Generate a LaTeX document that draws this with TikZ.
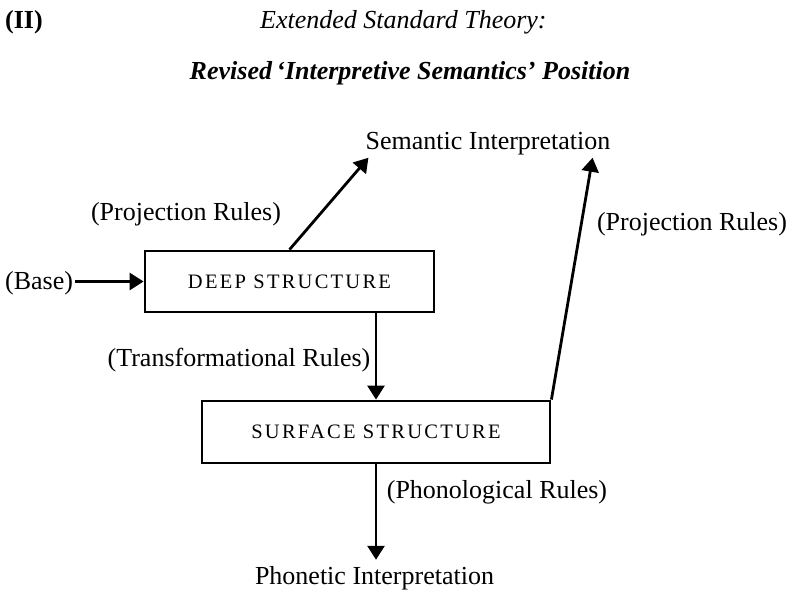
\documentclass[tikz,border=0pt]{standalone}
\usepackage{fontspec}
\setmainfont{Liberation Serif}
\usetikzlibrary{arrows.meta}
\begin{document}
\begin{tikzpicture}[x=1pt,y=-1pt,
  lbl/.style={inner sep=0pt,font=\fontsize{26}{30}\selectfont},
  ttl/.style={inner sep=0pt,font=\fontsize{26}{30}\selectfont\itshape},
  boxnode/.style={draw,line width=2.8pt,inner sep=0pt,
    font=\fontsize{20.5}{24}\selectfont\addfontfeature{LetterSpace=11}},
  arr/.style={line width=2.8pt,-{Triangle[length=14pt,width=17pt]}}]
\useasboundingbox (0,0) rectangle (792,589);
% titles
\node[lbl,anchor=base west,font=\fontsize{26}{30}\selectfont\bfseries] (num) at (5,28) {(II)};
\node[ttl,anchor=base west] (t1) at (260,28) {Extended Standard Theory:};
\node[ttl,anchor=base,font=\fontsize{26}{30}\selectfont\bfseries\itshape] (t2) at (410,79) {Revised\,‘Interpretive Semantics’ Position};
% main nodes
\node[lbl,anchor=base] (sem) at (488,149) {Semantic Interpretation};
\node[boxnode,minimum width=289pt,minimum height=61pt] (deep) at (289.5,281.5) {DEEP STRUCTURE};
\node[boxnode,minimum width=348pt,minimum height=62pt] (surf) at (376,432) {SURFACE STRUCTURE};
\node[lbl,anchor=base] (phon) at (374.5,584) {Phonetic Interpretation};
\node[lbl,anchor=base west] (base) at (5,289) {(Base)};
% labels
\node[lbl,anchor=base] (pr1) at (186,220) {(Projection Rules)};
\node[lbl,anchor=base] (pr2) at (692,230) {(Projection Rules)};
\node[lbl,anchor=base] (tr) at (239,366) {(Transformational Rules)};
\node[lbl,anchor=base] (ph) at (497,498) {(Phonological Rules)};
% connectors
\draw[arr] ([xshift=2pt]base.east |- deep.west) -- (deep.west);
\draw[arr] (deep.north) -- ([xshift=3pt,yshift=-3pt]sem.south west);
\draw[arr] (deep.south -| surf.north) -- (surf.north);
\draw[arr] (surf.north east) -- ([xshift=-18pt,yshift=-3pt]sem.south east);
\draw[arr,shorten >=6pt] (surf.south) -- (surf.south |- phon.north);
\end{tikzpicture}
\end{document}
